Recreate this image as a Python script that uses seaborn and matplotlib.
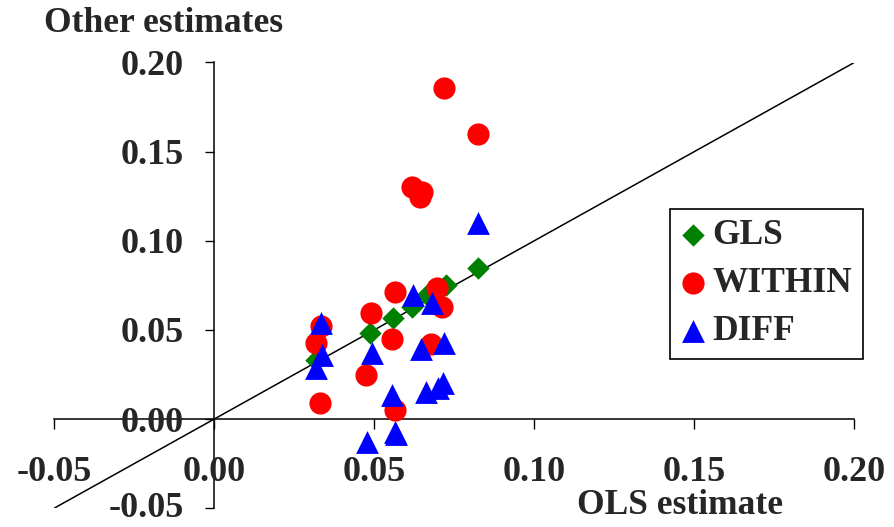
import matplotlib
matplotlib.use("Agg")
import matplotlib.pyplot as plt
import matplotlib.transforms as mtransforms
import seaborn as sns
import pandas as pd

# ---- data ----
gls_x = [0.0825, 0.0726, 0.0664, 0.0617, 0.0559, 0.0487, 0.0320]
gls_y = [0.0846, 0.0754, 0.0697, 0.0631, 0.0566, 0.0482, 0.0332]

within_x = [0.0718, 0.0823, 0.0617, 0.0651, 0.0643, 0.0565, 0.0489, 0.0555,
            0.0695, 0.0711, 0.0333, 0.0318, 0.0679, 0.0476, 0.0330, 0.0565]
within_y = [0.1855, 0.1600, 0.1304, 0.1276, 0.1244, 0.0715, 0.0594, 0.0448,
            0.0734, 0.0631, 0.0523, 0.0426, 0.0420, 0.0247, 0.0090, 0.0052]

diff_x = [0.0825, 0.0620, 0.0682, 0.0333, 0.0338, 0.0320, 0.0492, 0.0645,
          0.0719, 0.0557, 0.0662, 0.0700, 0.0716, 0.0565, 0.0568, 0.0479]
diff_y = [0.1100, 0.0697, 0.0650, 0.0538, 0.0360, 0.0286, 0.0370, 0.0392,
          0.0429, 0.0136, 0.0155, 0.0174, 0.0202, -0.0072, -0.0086, -0.0126]

diag = [-0.05, 0.20]
ticks = [-0.05, 0.00, 0.05, 0.10, 0.15, 0.20]
tick_labels = ["-0.05", "0.00", "0.05", "0.10", "0.15", "0.20"]

# ---- style ----
sns.set_style("white")
plt.rcParams["font.family"] = ["Liberation Serif", "DejaVu Serif"]
plt.rcParams["font.weight"] = "bold"
plt.rcParams["axes.unicode_minus"] = False
FS = 25.5
TFS = 26

fig = plt.figure(figsize=(8.95, 5.27), dpi=100)
W, H = 895, 527
x0, x1 = 54.0, 854.3
ytop, ybot = 62.5, 508.3
ax = fig.add_axes([x0 / W, (H - ybot) / H, (x1 - x0) / W, (ybot - ytop) / H])
ax.set_facecolor("none")

ax.plot(diag, diag, color="black", lw=1.1, zorder=1)

df_g = pd.DataFrame({"x": gls_x, "y": gls_y})
df_w = pd.DataFrame({"x": within_x, "y": within_y})
df_d = pd.DataFrame({"x": diff_x, "y": diff_y})

sns.scatterplot(data=df_g, x="x", y="y", ax=ax, marker="D", s=130,
                color="#008000", linewidth=0, label="GLS", zorder=3, clip_on=False)
sns.scatterplot(data=df_w, x="x", y="y", ax=ax, marker="o", s=255,
                color="#FF0000", linewidth=0, label="WITHIN", zorder=4, clip_on=False)
sns.scatterplot(data=df_d, x="x", y="y", ax=ax, marker="^", s=270,
                color="#0000FF", linewidth=0, label="DIFF", zorder=5, clip_on=False)

ax.set_xlim(-0.05, 0.20)
ax.set_ylim(-0.05, 0.20)
ax.set_xlabel("")
ax.set_ylabel("")

for s in ["top", "right"]:
    ax.spines[s].set_visible(False)
ax.spines["left"].set_position(("data", 0))
ax.spines["bottom"].set_position(("data", 0))
for s in ["left", "bottom"]:
    ax.spines[s].set_color("black")
    ax.spines[s].set_linewidth(1.1)
    ax.spines[s].set_zorder(0.5)

ax.set_xticks(ticks)
ax.set_xticklabels(tick_labels)
ax.set_yticks(ticks)
ax.set_yticklabels(tick_labels)
ax.tick_params(axis="x", direction="out", length=7.5, width=1, color="black",
               pad=19, labelsize=TFS, bottom=True)
ax.tick_params(axis="y", direction="out", length=6.5, width=1, color="black",
               pad=15, labelsize=TFS, left=True)
for lab in ax.get_xticklabels() + ax.get_yticklabels():
    lab.set_fontweight("bold")

# nudge the lowest y label up slightly so it stays inside the canvas
low = ax.get_yticklabels()[0]
low.set_transform(low.get_transform() +
                  mtransforms.ScaledTranslation(0, 4 / 100, fig.dpi_scale_trans))

fig.text(164 / W, 1 - 24 / H, "Other estimates", ha="center", va="center",
         fontsize=FS, fontweight="bold")
fig.text(680 / W, 1 - 506 / H, "OLS estimate", ha="center", va="center",
         fontsize=FS, fontweight="bold")

leg = ax.legend(loc="upper left", bbox_to_anchor=(670 / W, 1 - 208.5 / H),
                bbox_transform=fig.transFigure, frameon=True, fancybox=False,
                edgecolor="black", framealpha=1, prop={"size": FS, "weight": "bold"},
                handlelength=0.7, handletextpad=0.2, labelspacing=0.42,
                borderpad=0.3, borderaxespad=0)
leg.get_frame().set_linewidth(1.2)

fig.savefig("out.png", dpi=100)
